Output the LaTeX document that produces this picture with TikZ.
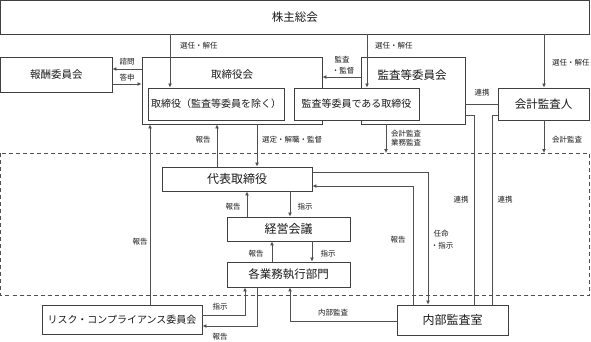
\documentclass[tikz,border=0pt]{standalone}
\usepackage{fontspec}
\setmainfont{Noto Sans CJK JP}
\usetikzlibrary{arrows.meta}
\definecolor{boxc}{HTML}{404040}
\definecolor{linec}{HTML}{505050}
\definecolor{txtc}{HTML}{1A1A1A}
\begin{document}
\begin{tikzpicture}[x=1pt,y=-1pt,
  box/.style={draw=boxc,line width=0.9pt,fill=white,inner sep=0pt,text=txtc},
  conn/.style={draw=linec,line width=0.8pt},
  arr/.style={conn,-{Latex[length=4pt,width=4pt]}},
  lbl/.style={inner sep=0pt,text=txtc,font=\fontsize{7.5}{9.5}\selectfont,align=center},
  big/.style={font=\fontsize{#1}{#1}\selectfont}
]
\useasboundingbox (0,0) rectangle (591,341);

% dashed region
\draw[draw=linec,line width=0.8pt,dash pattern=on 4pt off 3pt] (0.5,153) rectangle (589,295);

% boxes
\node[box,big=11.5,minimum width=588.5pt,minimum height=34pt] (kabu) at (294.75,17) {株主総会};
\node[box,big=10.5,minimum width=111.5pt,minimum height=35pt] (hoshu) at (56.25,74.5) {報酬委員会};
\node[box,minimum width=180pt,minimum height=67pt] (tbk) at (232,90.5) {};
\node[lbl,big=10.5] (tbkt) at (232,75) {取締役会};
\node[box,minimum width=104pt,minimum height=67pt] (kak) at (413,90.5) {};
\node[lbl,big=11.5] (kakt) at (412,75) {監査等委員会};
\node[box,big=10,minimum width=136pt,minimum height=32pt] (tnoz) at (216,104) {取締役（監査等委員を除く）};
\node[box,big=10,minimum width=125pt,minimum height=32pt] (ktori) at (356.5,104) {監査等委員である取締役};
\node[box,big=11.5,minimum width=91pt,minimum height=32pt] (kaikei) at (543.5,104) {会計監査人};
\node[box,big=12,minimum width=150pt,minimum height=24pt] (daihyo) at (237,179) {代表取締役};
\node[box,big=12,minimum width=123pt,minimum height=24pt] (keiei) at (288.5,229) {経営会議};
\node[box,big=11.5,minimum width=123pt,minimum height=25pt] (kakugyo) at (288.5,274.5) {各業務執行部門};
\node[box,big=12,minimum width=111pt,minimum height=30pt] (naibu) at (452.5,320) {内部監査室};
\node[box,big=10,minimum width=160pt,minimum height=29pt] (risk) at (122,319.5) {リスク・コンプライアンス委員会};

% shareholders meeting
\draw[arr] (170,0 |- kabu.south) -- (170,0 |- tnoz.north);
\node[lbl,anchor=west] (l1) at (180,46) {選任・解任};
\draw[arr] (367,0 |- kabu.south) -- (367,0 |- ktori.north);
\node[lbl,anchor=west] (l2) at (375,46) {選任・解任};
\draw[arr] (544,0 |- kabu.south) -- (544,0 |- kaikei.north);
\node[lbl,anchor=west] (l3) at (552,63) {選任・解任};

% compensation committee
\draw[arr] (tbk.west |- 0,69) -- (hoshu.east |- 0,69);
\node[lbl] (l4) at (127,62) {諮問};
\draw[arr] (hoshu.east |- 0,84) -- (tbk.west |- 0,84);
\node[lbl] (l5) at (127,78) {答申};

% audit committee -> board
\draw[arr] (kak.west |- 0,77) -- (tbk.east |- 0,77);
\node[lbl] (l6) at (342,60) {監査};
\node[lbl] (l6b) at (343,71) {・監督};

% cooperation
\draw[conn] (kak.east |- 0,104) -- (kaikei.west |- 0,104);
\node[lbl] (l7) at (482,93) {連携};
\draw[conn] (kak.east |- 0,115) -- (474,115) -- (474,0 |- naibu.north);
\draw[conn] (kaikei.west |- 0,115) -- (492,115) -- (492,0 |- naibu.north);
\node[lbl] (l8) at (461,200) {連携};
\node[lbl] (l9) at (505,200) {連携};

% board <-> representative director
\draw[arr] (217,0 |- daihyo.north) -- (217,0 |- tbk.south);
\node[lbl] (l10) at (203,140) {報告};
\draw[arr] (150,0 |- risk.north) -- (150,0 |- tbk.south);
\node[lbl] (l11) at (140,242) {報告};
\draw[arr] (257,0 |- tbk.south) -- (257,0 |- daihyo.north);
\node[lbl,anchor=west] (l12) at (262,140) {選定・解職・監督};

% audits into dashed region
\draw[arr] (386,0 |- kak.south) -- (386,153);
\node[lbl,anchor=west] (l13) at (391,134) {会計監査};
\node[lbl,anchor=west] (l13b) at (391,143) {業務監査};
\draw[arr] (544,0 |- kaikei.south) -- (544,153);
\node[lbl,anchor=west] (l14) at (552,140) {会計監査};

% representative director <-> management meeting
\draw[arr] (290,0 |- daihyo.south) -- (290,0 |- keiei.north);
\node[lbl] (l15) at (305,207) {指示};
\draw[arr] (247,0 |- keiei.north) -- (247,0 |- daihyo.south);
\node[lbl] (l16) at (233,207) {報告};

% management meeting <-> business divisions
\draw[arr] (312,0 |- keiei.south) -- (312,0 |- kakugyo.north);
\node[lbl] (l17) at (328,254) {指示};
\draw[arr] (272,0 |- kakugyo.north) -- (272,0 |- keiei.south);
\node[lbl] (l18) at (256,254) {報告};

% representative director <-> internal audit
\draw[arr] (daihyo.east |- 0,172) -- (428,172) -- (428,0 |- naibu.north);
\node[lbl] (l19) at (441,234) {任命};
\node[lbl] (l19b) at (442,246) {・指示};
\draw[arr] (413,0 |- naibu.north) -- (413,186) -- (daihyo.east |- 0,186);
\node[lbl] (l20) at (398,240) {報告};

% internal audit -> divisions
\draw[arr] (naibu.west |- 0,321) -- (290,321) -- (290,0 |- kakugyo.south);
\node[lbl] (l21) at (333,313) {内部監査};

% risk committee <-> divisions
\draw[arr] (risk.east |- 0,315) -- (245,315) -- (245,0 |- kakugyo.south);
\node[lbl] (l22) at (220,307) {指示};
\draw[arr] (257,0 |- kakugyo.south) -- (257,326) -- (risk.east |- 0,326);
\node[lbl] (l23) at (220,337) {報告};
\end{tikzpicture}
\end{document}
